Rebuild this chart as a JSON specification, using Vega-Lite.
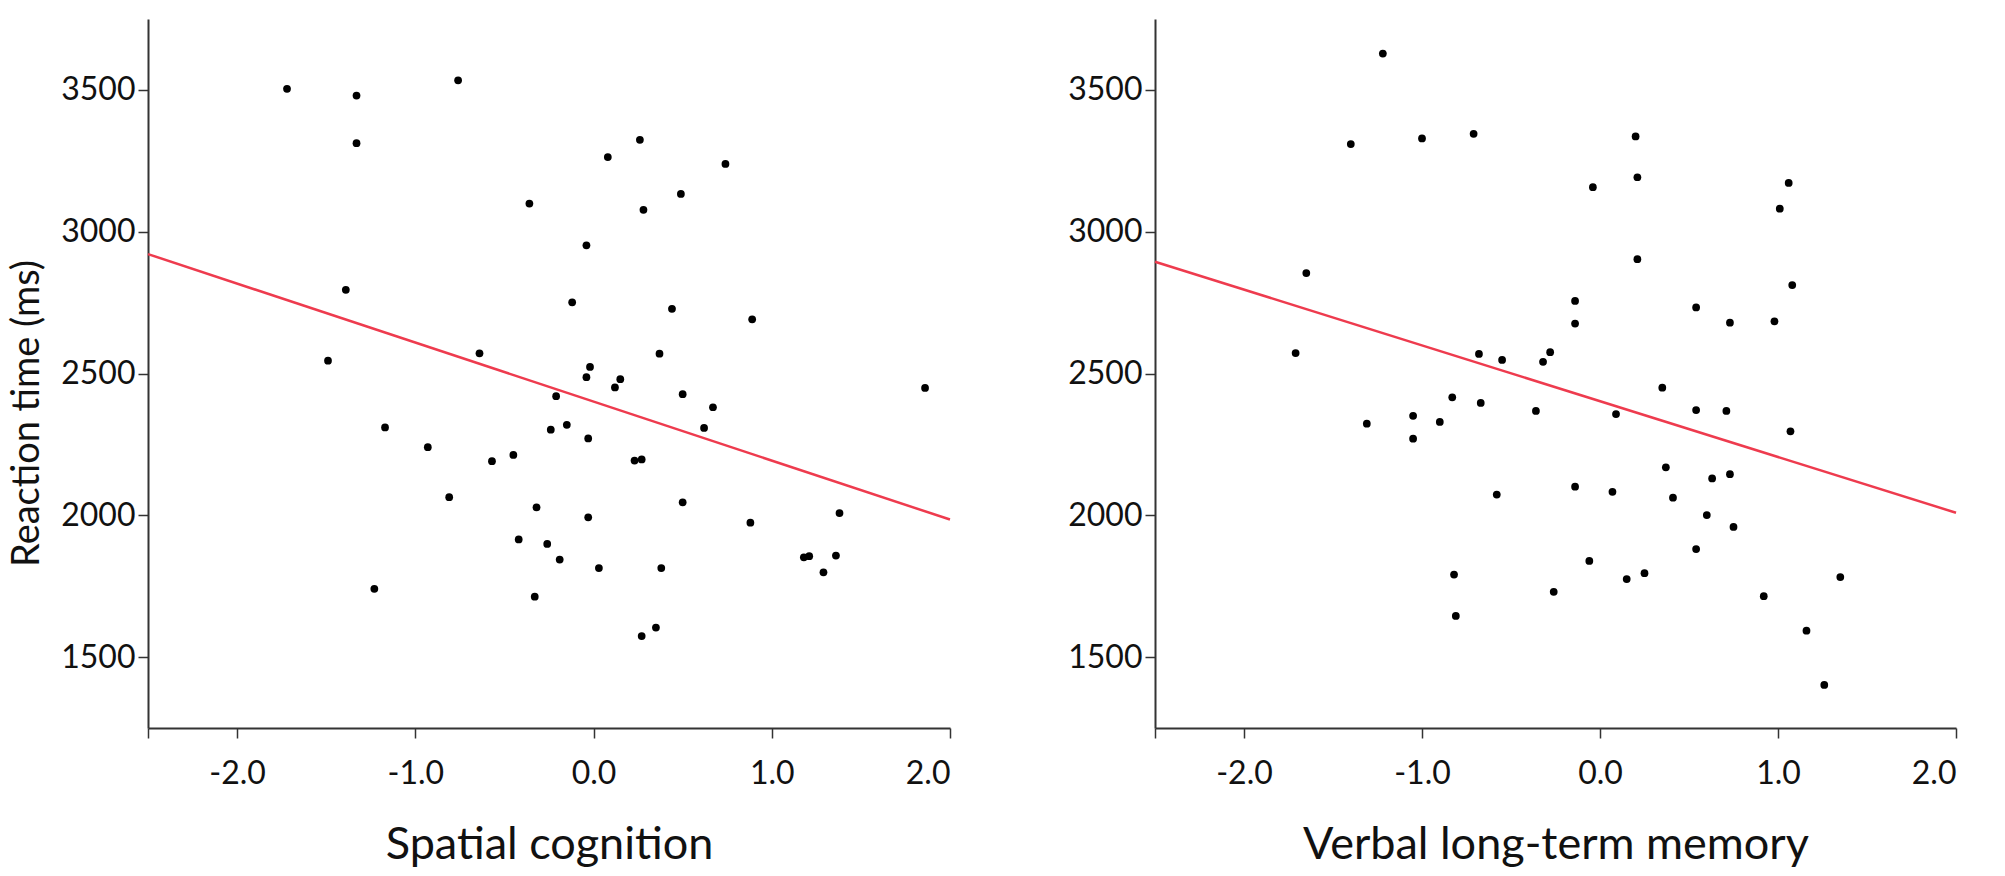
{
  "$schema": "https://vega.github.io/schema/vega-lite/v6.json",
  "background": "#FFFFFF",
  "padding": {"left": 8, "top": 19, "right": 5, "bottom": 5},
  "spacing": 112,
  "datasets": {
    "spatial": [
      {"score": -1.72, "rt": 3504}, {"score": -1.33, "rt": 3480}, {"score": -1.33, "rt": 3312},
      {"score": -1.39, "rt": 2795}, {"score": -0.76, "rt": 3534}, {"score": 0.26, "rt": 3324},
      {"score": 0.08, "rt": 3263}, {"score": 0.74, "rt": 3239}, {"score": 0.49, "rt": 3133},
      {"score": -0.36, "rt": 3099}, {"score": 0.28, "rt": 3077}, {"score": -0.04, "rt": 2952},
      {"score": -0.12, "rt": 2751}, {"score": 0.44, "rt": 2728}, {"score": 0.89, "rt": 2691},
      {"score": -1.49, "rt": 2545}, {"score": -0.64, "rt": 2571}, {"score": 0.37, "rt": 2570},
      {"score": -0.02, "rt": 2523}, {"score": -0.04, "rt": 2487}, {"score": 0.15, "rt": 2480},
      {"score": 0.12, "rt": 2451}, {"score": -0.21, "rt": 2420}, {"score": 0.50, "rt": 2427},
      {"score": 0.67, "rt": 2381}, {"score": 0.62, "rt": 2308}, {"score": -0.15, "rt": 2319},
      {"score": -0.24, "rt": 2302}, {"score": -0.03, "rt": 2271}, {"score": -1.17, "rt": 2310},
      {"score": -0.93, "rt": 2240}, {"score": -0.57, "rt": 2191}, {"score": -0.45, "rt": 2213},
      {"score": 0.23, "rt": 2193}, {"score": 0.27, "rt": 2197}, {"score": -0.81, "rt": 2064},
      {"score": -0.32, "rt": 2028}, {"score": 0.50, "rt": 2046}, {"score": -0.03, "rt": 1993},
      {"score": 0.88, "rt": 1974}, {"score": 1.86, "rt": 2449}, {"score": 1.38, "rt": 2008},
      {"score": 1.18, "rt": 1852}, {"score": 1.21, "rt": 1856}, {"score": 1.36, "rt": 1858},
      {"score": 1.29, "rt": 1799}, {"score": -0.42, "rt": 1915}, {"score": -0.26, "rt": 1899},
      {"score": -0.19, "rt": 1844}, {"score": 0.03, "rt": 1814}, {"score": 0.38, "rt": 1814},
      {"score": -1.23, "rt": 1741}, {"score": -0.33, "rt": 1713}, {"score": 0.27, "rt": 1574},
      {"score": 0.35, "rt": 1604}
    ],
    "verbal": [
      {"score": -1.22, "rt": 3628}, {"score": -1.40, "rt": 3309}, {"score": -1.00, "rt": 3329},
      {"score": -0.71, "rt": 3345}, {"score": -1.65, "rt": 2854}, {"score": -1.71, "rt": 2572},
      {"score": -0.68, "rt": 2569}, {"score": -0.55, "rt": 2548}, {"score": -0.32, "rt": 2541},
      {"score": -0.28, "rt": 2575}, {"score": 0.20, "rt": 3336}, {"score": 0.21, "rt": 3192},
      {"score": -0.04, "rt": 3157}, {"score": 1.06, "rt": 3172}, {"score": 1.01, "rt": 3081},
      {"score": 0.21, "rt": 2903}, {"score": 1.08, "rt": 2812}, {"score": -0.14, "rt": 2756},
      {"score": 0.54, "rt": 2733}, {"score": -0.14, "rt": 2676}, {"score": 0.73, "rt": 2679},
      {"score": 0.98, "rt": 2684}, {"score": -0.83, "rt": 2416}, {"score": -0.67, "rt": 2396},
      {"score": -0.36, "rt": 2368}, {"score": -1.05, "rt": 2351}, {"score": -1.31, "rt": 2323},
      {"score": -0.90, "rt": 2329}, {"score": -1.05, "rt": 2270}, {"score": -0.58, "rt": 2073},
      {"score": -0.82, "rt": 1791}, {"score": -0.81, "rt": 1645}, {"score": -0.26, "rt": 1730},
      {"score": 0.35, "rt": 2450}, {"score": 0.09, "rt": 2357}, {"score": 0.54, "rt": 2371},
      {"score": 0.71, "rt": 2368}, {"score": 1.07, "rt": 2296}, {"score": 0.37, "rt": 2169},
      {"score": 0.63, "rt": 2130}, {"score": 0.73, "rt": 2145}, {"score": -0.14, "rt": 2101},
      {"score": 0.07, "rt": 2083}, {"score": 0.41, "rt": 2062}, {"score": 0.60, "rt": 2001},
      {"score": 0.75, "rt": 1959}, {"score": 0.54, "rt": 1881}, {"score": -0.06, "rt": 1839},
      {"score": 0.15, "rt": 1775}, {"score": 0.25, "rt": 1796}, {"score": 0.92, "rt": 1715},
      {"score": 1.35, "rt": 1782}, {"score": 1.16, "rt": 1593}, {"score": 1.26, "rt": 1402}
    ],
    "spatialFit": [{"score": -2.5, "rt": 2921}, {"score": 2.0, "rt": 1985}],
    "verbalFit": [{"score": -2.5, "rt": 2894}, {"score": 2.0, "rt": 2009}]
  },
  "config": {
    "font": "Lato",
    "view": {"stroke": null},
    "axis": {
      "grid": false,
      "domainColor": "#333333",
      "domainWidth": 2,
      "tickColor": "#333333",
      "tickWidth": 1.5,
      "tickSize": 10,
      "labelFont": "Lato",
      "labelFontSize": 32,
      "labelColor": "#111111",
      "titleFont": "Lato",
      "titleFontWeight": "normal",
      "titleColor": "#111111"
    },
    "axisX": {"labelPadding": 20, "titlePadding": 33, "titleFontSize": 45},
    "axisY": {"labelPadding": 3, "titleFontSize": 38}
  },
  "hconcat": [
    {
      "width": 802,
      "height": 709,
      "layer": [
        {
          "data": {"name": "spatial"},
          "mark": {"type": "circle", "size": 60, "color": "#000000", "opacity": 1},
          "encoding": {
            "x": {
              "field": "score", "type": "quantitative",
              "scale": {"domain": [-2.5, 2.0], "nice": false, "zero": false},
              "axis": {
                "title": "Spatial cognition",
                "values": [-2.5, -2, -1, 0, 1, 2],
                "labelExpr": "datum.value == -2.5 ? '' : replace(format(datum.value, '.1f'), '\u2212', '-')"
              }
            },
            "y": {
              "field": "rt", "type": "quantitative",
              "scale": {"domain": [1250, 3750], "nice": false, "zero": false},
              "axis": {
                "title": "Reaction time (ms)",
                "values": [1500, 2000, 2500, 3000, 3500],
                "format": "d",
                "titlePadding": 14,
                "titleY": 394
              }
            }
          }
        },
        {
          "data": {"name": "spatialFit"},
          "mark": {"type": "line", "color": "#EE3B4E", "strokeWidth": 2.5},
          "encoding": {
            "x": {"field": "score", "type": "quantitative"},
            "y": {"field": "rt", "type": "quantitative"}
          }
        }
      ]
    },
    {
      "width": 801,
      "height": 709,
      "layer": [
        {
          "data": {"name": "verbal"},
          "mark": {"type": "circle", "size": 60, "color": "#000000", "opacity": 1},
          "encoding": {
            "x": {
              "field": "score", "type": "quantitative",
              "scale": {"domain": [-2.5, 2.0], "nice": false, "zero": false},
              "axis": {
                "title": "Verbal long-term memory",
                "values": [-2.5, -2, -1, 0, 1, 2],
                "labelExpr": "datum.value == -2.5 ? '' : replace(format(datum.value, '.1f'), '\u2212', '-')"
              }
            },
            "y": {
              "field": "rt", "type": "quantitative",
              "scale": {"domain": [1250, 3750], "nice": false, "zero": false},
              "axis": {
                "title": null,
                "values": [1500, 2000, 2500, 3000, 3500],
                "format": "d"
              }
            }
          }
        },
        {
          "data": {"name": "verbalFit"},
          "mark": {"type": "line", "color": "#EE3B4E", "strokeWidth": 2.5},
          "encoding": {
            "x": {"field": "score", "type": "quantitative"},
            "y": {"field": "rt", "type": "quantitative"}
          }
        }
      ]
    }
  ]
}
